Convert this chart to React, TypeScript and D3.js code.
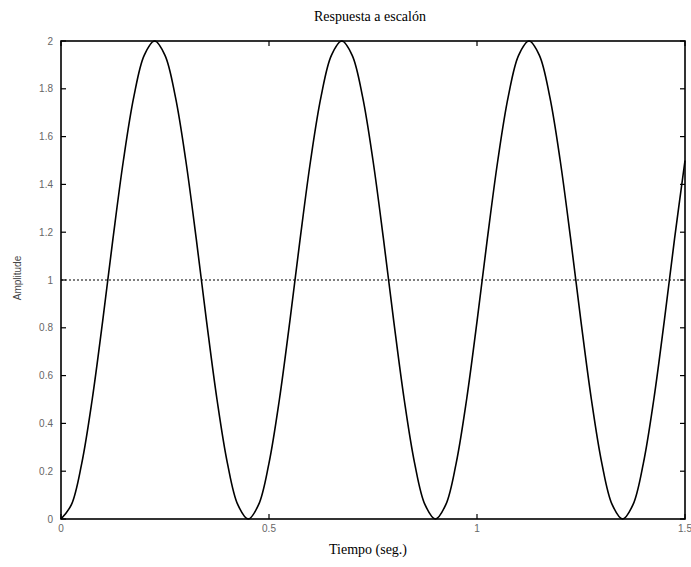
import React from "react";
import * as d3 from "d3";

const times: number[] = [
  0, 0.025, 0.05, 0.075, 0.1, 0.125, 0.15, 0.175, 0.2, 0.225, 0.25, 0.275, 0.3, 0.325, 0.35, 0.375, 0.4, 0.425,
  0.45, 0.475, 0.5, 0.525, 0.55, 0.575, 0.6, 0.625, 0.65, 0.675, 0.7, 0.725, 0.75, 0.775, 0.8, 0.825, 0.85, 0.875,
  0.9, 0.925, 0.95, 0.975, 1.0, 1.025, 1.05, 1.075, 1.1, 1.125, 1.15, 1.175, 1.2, 1.225, 1.25, 1.275, 1.3, 1.325,
  1.35, 1.375, 1.4, 1.425, 1.45, 1.475, 1.5,
];
const amplitude: number[] = [
  0, 0.06, 0.234, 0.5, 0.826, 1.174, 1.5, 1.766, 1.94, 2, 1.94, 1.766, 1.5, 1.174, 0.826, 0.5, 0.234, 0.06,
  0, 0.06, 0.234, 0.5, 0.826, 1.174, 1.5, 1.766, 1.94, 2, 1.94, 1.766, 1.5, 1.174, 0.826, 0.5, 0.234, 0.06,
  0, 0.06, 0.234, 0.5, 0.826, 1.174, 1.5, 1.766, 1.94, 2, 1.94, 1.766, 1.5, 1.174, 0.826, 0.5, 0.234, 0.06,
  0, 0.06, 0.234, 0.5, 0.826, 1.174, 1.5,
];
const xTicks: number[] = [0, 0.5, 1, 1.5];
const xTickLabels: string[] = ["0", "0.5", "1", "1.5"];
const yTicks: number[] = [0, 0.2, 0.4, 0.6, 0.8, 1, 1.2, 1.4, 1.6, 1.8, 2];
const yTickLabels: string[] = ["0", "0.2", "0.4", "0.6", "0.8", "1", "1.2", "1.4", "1.6", "1.8", "2"];
const referenceLevel = 1;

const W = 691;
const H = 567;
const L = 61;
const R = 685;
const T = 41;
const B = 519;

export default function App() {
  const x = d3.scaleLinear().domain([0, 1.5]).range([L, R]);
  const y = d3.scaleLinear().domain([0, 2]).range([B, T]);
  const pts = times.map((t, i) => [t, amplitude[i]] as [number, number]);
  const line = d3
    .line<[number, number]>()
    .x((d) => x(d[0]))
    .y((d) => y(d[1]))
    .curve(d3.curveCatmullRom.alpha(0.5));
  const tl = 5;
  const tickFont = { fontFamily: "Liberation Sans, Arial, sans-serif", fontSize: 10, fill: "#666" };
  return (
    <svg width={W} height={H} style={{ position: "absolute", left: 0, top: 0, background: "#fff" }}>
      <rect x={0} y={0} width={W} height={H} fill="#fff" />
      <text x={370} y={21} textAnchor="middle" style={{ fontFamily: "Liberation Serif, Times New Roman, serif", fontSize: 14 }}>
        Respuesta a escalón
      </text>
      <text x={368} y={554} textAnchor="middle" style={{ fontFamily: "Liberation Serif, Times New Roman, serif", fontSize: 14 }}>
        Tiempo (seg.)
      </text>
      <text
        transform={`translate(21,${(T + B) / 2 - 2}) rotate(-90)`}
        textAnchor="middle"
        style={{ fontFamily: "Liberation Sans, Arial, sans-serif", fontSize: 10, fill: "#444" }}
      >
        Amplitude
      </text>
      <line
        x1={x(0)}
        x2={x(1.5)}
        y1={y(referenceLevel)}
        y2={y(referenceLevel)}
        stroke="#000"
        strokeWidth={1.2}
        strokeDasharray="2,2"
      />
      <path d={line(pts) || ""} fill="none" stroke="#000" strokeWidth={1.6} />
      {xTicks.map((v, i) => (
        <g key={"x" + i}>
          <line x1={x(v)} x2={x(v)} y1={B} y2={B - tl} stroke="#000" strokeWidth={1.2} />
          <line x1={x(v)} x2={x(v)} y1={T} y2={T + tl} stroke="#000" strokeWidth={1.2} />
          <text x={x(v)} y={B + 13} textAnchor="middle" style={tickFont}>
            {xTickLabels[i]}
          </text>
        </g>
      ))}
      {yTicks.map((v, i) => (
        <g key={"y" + i}>
          <line x1={L} x2={L + tl} y1={y(v)} y2={y(v)} stroke="#000" strokeWidth={1.2} />
          <line x1={R} x2={R - tl} y1={y(v)} y2={y(v)} stroke="#000" strokeWidth={1.2} />
          <text x={L - 8} y={y(v) + 3.5} textAnchor="end" style={tickFont}>
            {yTickLabels[i]}
          </text>
        </g>
      ))}
      <rect x={L} y={T} width={R - L} height={B - T} fill="none" stroke="#000" strokeWidth={1.6} />
    </svg>
  );
}
